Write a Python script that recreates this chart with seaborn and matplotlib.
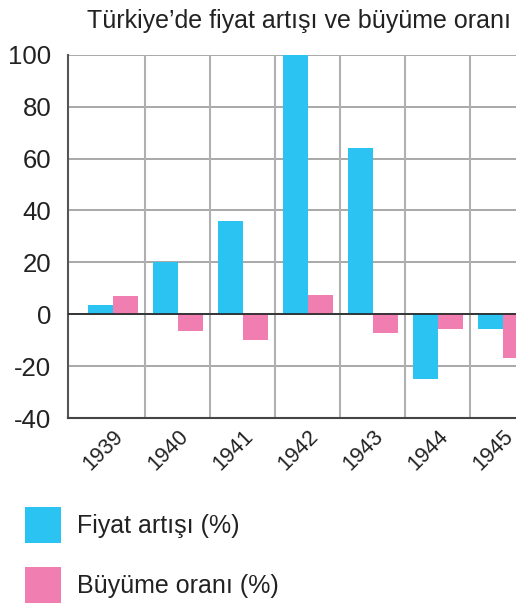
import numpy as np
import pandas as pd
import seaborn as sns
import matplotlib.pyplot as plt
from matplotlib.patches import Patch

years = ['1939', '1940', '1941', '1942', '1943', '1944', '1945']
fiyat = [3.5, 20, 36, 100, 64, -25, -5.8]
buyume = [7.0, -6.6, -9.9, 7.3, -7.3, -5.8, -16.8]
seriler = ['Fiyat artışı (%)', 'Büyüme oranı (%)']
renkler = ['#2bc4f2', '#f07eb0']
baslik = 'Türkiye\u2019de fiyat artışı ve büyüme oranı'

df = pd.DataFrame({
    'yil': years * 2,
    'deger': fiyat + buyume,
    'seri': [seriler[0]] * len(years) + [seriler[1]] * len(years),
})

sns.set_style('white')
plt.rcParams['font.family'] = ['Liberation Sans', 'DejaVu Sans']
plt.rcParams['axes.unicode_minus'] = False

fig = plt.figure(figsize=(5.16, 6.08), dpi=100)
ax = fig.add_axes([68 / 516, 190 / 608, 448 / 516, 363.3 / 608])

sns.barplot(data=df, x='yil', y='deger', hue='seri', palette=renkler,
            width=0.77, saturation=1, ax=ax, legend=False, zorder=3,
            linewidth=0, edgecolor='none')

ax.set_xlim(-0.692, 6.2)
ax.set_ylim(-40, 100)
ax.set_yticks(range(-40, 101, 20))
ax.set_xlabel('')
ax.set_ylabel('')

# grid
for y in range(-20, 101, 20):
    ax.axhline(y, color='#9a9a9a', lw=1.2, zorder=1)
for x in np.arange(0.5, 6, 1):
    ax.axvline(x, color='#b0b0b0', lw=1.5, zorder=1)
ax.axhline(0, color='#222222', lw=1.2, zorder=4)

for s in ['top', 'right']:
    ax.spines[s].set_visible(False)
ax.spines['left'].set_color('#555555')
ax.spines['left'].set_linewidth(1.5)
ax.spines['bottom'].set_color('#444444')
ax.spines['bottom'].set_linewidth(1.5)

ax.tick_params(axis='y', direction='inout', length=12, width=1.2, color='#555555',
               labelsize=18.5, labelcolor='#222222', pad=6)
ax.tick_params(axis='x', length=0, labelsize=15.5, labelcolor='#222222', pad=6)
for lab in ax.get_xticklabels():
    lab.set_rotation(45)
    lab.set_ha('right')
    lab.set_rotation_mode('anchor')

fig.text(0.99, 0.966, baslik, ha='right', va='center', fontsize=18, color='#222222')

handles = [Patch(facecolor=c, edgecolor='none') for c in renkler]
fig.legend(handles, seriler, loc='upper left', bbox_to_anchor=(25 / 516, 1 - 507 / 608),
           frameon=False, fontsize=18, handlelength=1.44, handleheight=1.83,
           handletextpad=0.64, labelspacing=0.96, borderpad=0, borderaxespad=0,
           labelcolor='#222222')

fig.savefig('out.png', dpi=100)
